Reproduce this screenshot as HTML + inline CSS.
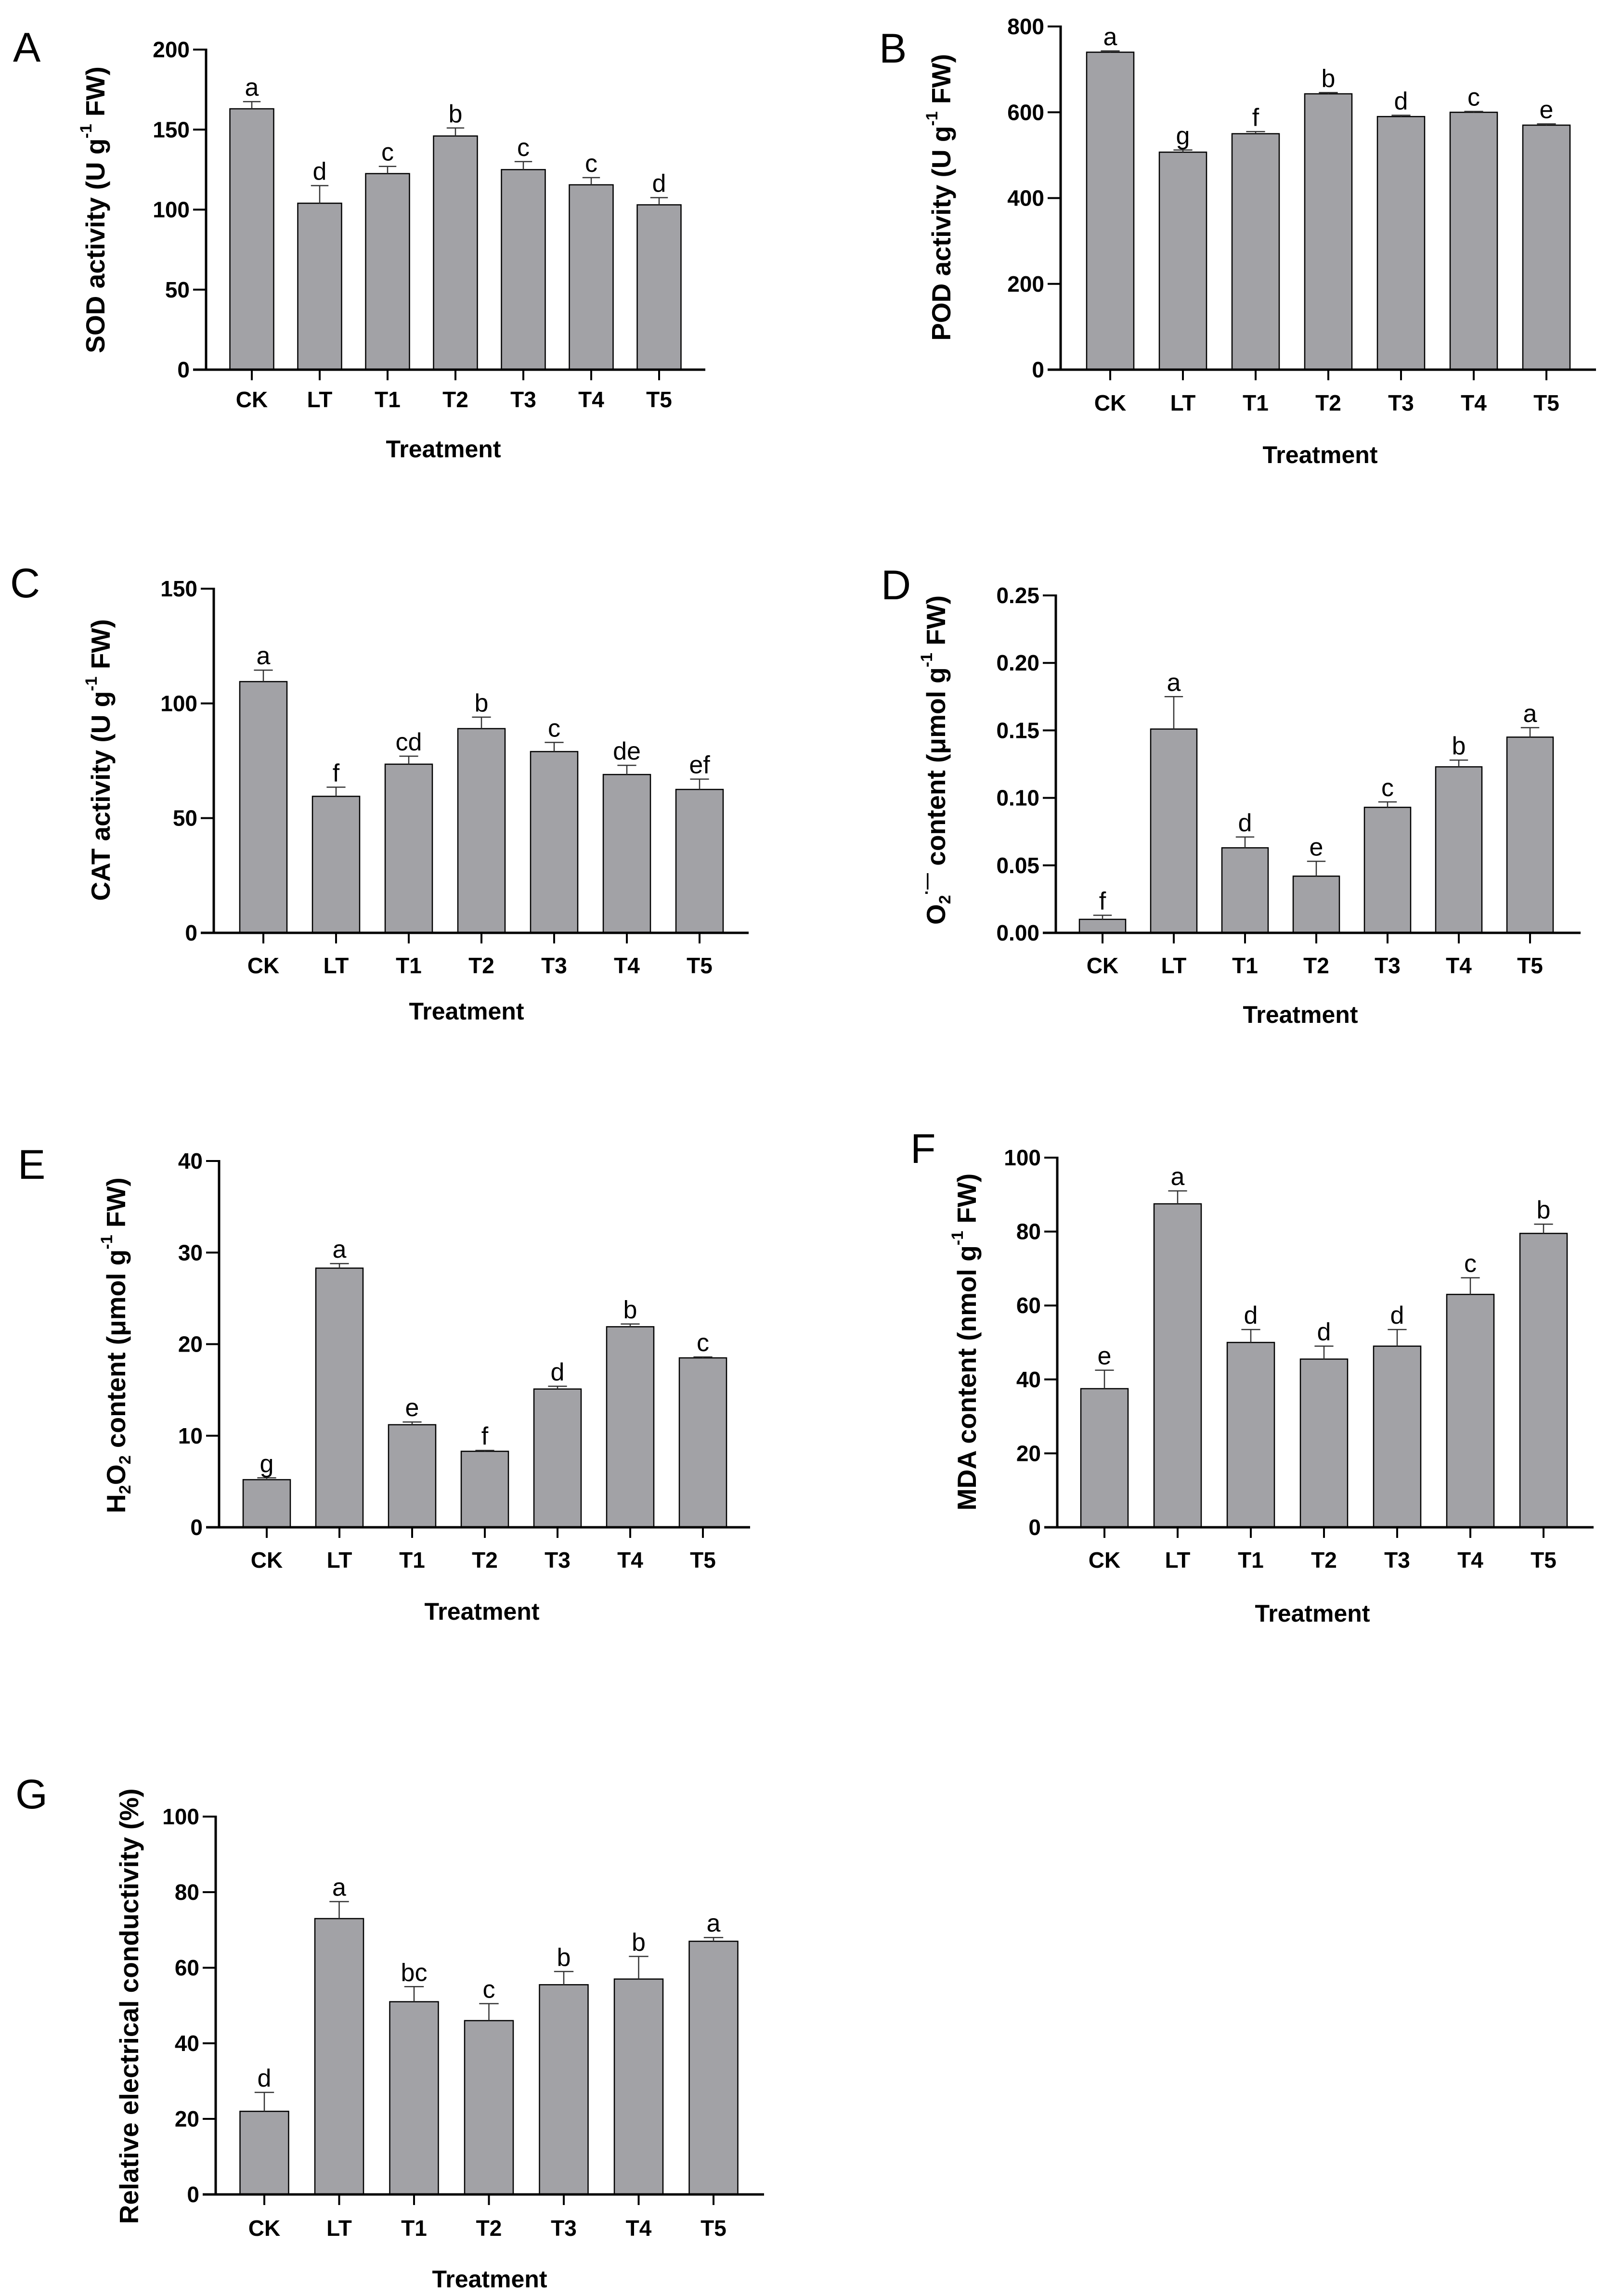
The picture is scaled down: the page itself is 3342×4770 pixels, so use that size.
<!DOCTYPE html>
<html><head><meta charset="utf-8"><style>
html,body{margin:0;padding:0;background:#fff;}
svg{display:block;font-family:"Liberation Sans",Arial,sans-serif;}
</style></head><body>
<svg id="fig" width="3342" height="4770" viewBox="0 0 3342 4770" xmlns="http://www.w3.org/2000/svg"></svg>
<script>
const categories = ["CK","LT","T1","T2","T3","T4","T5"];

const sodValues = [163,104,122.5,146,125,115.5,103];
const sodErrors = [4.5,11,4.5,5,5,4.5,4.5];
const sodLetters = ["a","d","c","b","c","c","d"];
const sodTicks = [0,50,100,150,200];

const podValues = [740,507,550,643,590,600,570];
const podErrors = [3,5,5,3,3,2,3];
const podLetters = ["a","g","f","b","d","c","e"];
const podTicks = [0,200,400,600,800];

const catValues = [109.5,59.5,73.5,89,79,69,62.5];
const catErrors = [5,4,3.5,5,4,4,4.5];
const catLetters = ["a","f","cd","b","c","de","ef"];
const catTicks = [0,50,100,150];

const o2Values = [0.010,0.151,0.063,0.042,0.093,0.123,0.145];
const o2Errors = [0.003,0.024,0.008,0.011,0.004,0.005,0.007];
const o2Letters = ["f","a","d","e","c","b","a"];
const o2Ticks = [0,0.05,0.10,0.15,0.20,0.25];

const h2o2Values = [5.2,28.3,11.2,8.3,15.1,21.9,18.5];
const h2o2Errors = [0.2,0.5,0.3,0.1,0.3,0.3,0.1];
const h2o2Letters = ["g","a","e","f","d","b","c"];
const h2o2Ticks = [0,10,20,30,40];

const mdaValues = [37.5,87.5,50,45.5,49,63,79.5];
const mdaErrors = [5,3.5,3.5,3.5,4.5,4.5,2.5];
const mdaLetters = ["e","a","d","d","d","c","b"];
const mdaTicks = [0,20,40,60,80,100];

const recValues = [22,73,51,46,55.5,57,67];
const recErrors = [5,4.5,4,4.5,3.5,6,1];
const recLetters = ["d","a","bc","c","b","b","a"];
const recTicks = [0,20,40,60,80,100];

const NS = "http://www.w3.org/2000/svg";
const svg = document.getElementById("fig");
function mk(tag, attrs, parent){
  const e = document.createElementNS(NS, tag);
  for (const k in attrs) e.setAttribute(k, attrs[k]);
  (parent||svg).appendChild(e);
  return e;
}

const panels = [
 {id:"sod", letter:"A", lx:27, ly:128, ax:428, x1:1465, yTop:103, y0:768, ymax:200, c0:523, step:141, bw:91, tickY:830, tY:933, tX:921, ylX:198, ylY:436,
  values:sodValues, errors:sodErrors, letters:sodLetters, ticks:sodTicks, dec:0,
  label:[["SOD activity (U g",""],["-1","sup"],["  FW)",""]]},
 {id:"pod", letter:"B", lx:1826, ly:130, ax:2203, x1:3315, yTop:55, y0:768, ymax:800, c0:2306, step:151, bw:98, tickY:837, tY:945, tX:2742, ylX:1955, ylY:410,
  values:podValues, errors:podErrors, letters:podLetters, ticks:podTicks, dec:0,
  label:[["POD activity (U g",""],["-1","sup"],[" FW)",""]]},
 {id:"cat", letter:"C", lx:21, ly:1241, ax:444, x1:1555, yTop:1223, y0:1938, ymax:150, c0:547, step:151, bw:98, tickY:2006, tY:2101, tX:969, ylX:209, ylY:1579,
  values:catValues, errors:catErrors, letters:catLetters, ticks:catTicks, dec:0,
  label:[["CAT activity (U g",""],["-1","sup"],[" FW)",""]]},
 {id:"o2", letter:"D", lx:1830, ly:1245, ax:2193, x1:3283, yTop:1237, y0:1938, ymax:0.25, c0:2290, step:148, bw:96, tickY:2006, tY:2108, tX:2701, ylX:1944, ylY:1579,
  values:o2Values, errors:o2Errors, letters:o2Letters, ticks:o2Ticks, dec:2,
  label:[["O",""],["2","sub"],["·\u2014","sup"],["  content (\u03bcmol g",""],["-1","sup"],["  FW)",""]]},
 {id:"h2o2", letter:"E", lx:37, ly:2449, ax:455, x1:1558, yTop:2412, y0:3173, ymax:40, c0:554, step:151, bw:98, tickY:3241, tY:3348, tX:1001, ylX:241, ylY:2795,
  values:h2o2Values, errors:h2o2Errors, letters:h2o2Letters, ticks:h2o2Ticks, dec:0,
  label:[["H",""],["2","sub"],["O",""],["2","sub"],[" content (\u03bcmol g",""],["-1","sup"],["  FW)",""]]},
 {id:"mda", letter:"F", lx:1891, ly:2416, ax:2196, x1:3310, yTop:2405, y0:3173, ymax:100, c0:2294, step:152, bw:98, tickY:3241, tY:3352, tX:2726, ylX:2008, ylY:2788,
  values:mdaValues, errors:mdaErrors, letters:mdaLetters, ticks:mdaTicks, dec:0,
  label:[["MDA content (nmol g",""],["-1","sup"],["  FW)",""]]},
 {id:"rec", letter:"G", lx:32, ly:3757, ax:448, x1:1587, yTop:3774, y0:4559, ymax:100, c0:549, step:155.5, bw:101, tickY:4629, tY:4735, tX:1017, ylX:268, ylY:4168,
  values:recValues, errors:recErrors, letters:recLetters, ticks:recTicks, dec:0,
  label:[["Relative electrical conductivity (%)",""]]}
];

panels.forEach(p=>{
  const g = mk("g",{});
  
  
  const yS = v => p.y0 - (v/p.ymax)*(p.y0-p.yTop);
  const xC = i => p.c0 + i*p.step;

  const pl = mk("text",{x:p.lx, y:p.ly, "font-size":86, fill:"#000"}, g);
  pl.textContent = p.letter;
  
  

  p.values.forEach((v,i)=>{
    const top = yS(v);
    const r = mk("rect",{x:xC(i)-p.bw/2, y:top, width:p.bw, height:p.y0-top, fill:"#a2a2a6", stroke:"#000", "stroke-width":2.5}, g);
    
    
    const et = yS(v+p.errors[i]);
    const eb = mk("path",{d:`M${xC(i)} ${top} V${et} M${xC(i)-p.bw*0.2} ${et} H${xC(i)+p.bw*0.2}`, stroke:"#333", "stroke-width":2.5, fill:"none"}, g);
    
    
    const lt = mk("text",{x:xC(i), y:et-12, "font-size":52, "text-anchor":"middle", fill:"#000"}, g);
    lt.textContent = p.letters[i];
    
    
  });

  const yAxis = mk("line",{x1:p.ax, y1:p.yTop-2, x2:p.ax, y2:p.y0+2, stroke:"#000", "stroke-width":5}, g);
  
  
  const xAxis = mk("line",{x1:p.ax-27, y1:p.y0, x2:p.x1, y2:p.y0, stroke:"#000", "stroke-width":5}, g);
  
  

  p.ticks.forEach(t=>{
    const y = yS(t);
    mk("line",{x1:p.ax-27, y1:y, x2:p.ax, y2:y, stroke:"#000", "stroke-width":4}, g);
    const tl = mk("text",{x:p.ax-34, y:y, "font-size":46, "font-weight":"bold", "text-anchor":"end", "dominant-baseline":"central", fill:"#000"}, g);
    tl.textContent = t.toFixed(p.dec);
    
    
  });
  categories.forEach((c,i)=>{
    mk("line",{x1:xC(i), y1:p.y0, x2:xC(i), y2:p.y0+22, stroke:"#000", "stroke-width":4}, g);
    const tl = mk("text",{x:xC(i), y:p.tickY, "font-size":46, "font-weight":"bold", "text-anchor":"middle", "dominant-baseline":"central", fill:"#000"}, g);
    tl.textContent = c;
    
    
  });

  const xt = mk("text",{x:p.tX, y:p.tY, "font-size":50, "font-weight":"bold", "text-anchor":"middle", "dominant-baseline":"central", fill:"#000"}, g);
  xt.textContent = "Treatment";
  
  

  const yt = mk("text",{x:0, y:0, "font-size":55, "font-weight":"bold", "text-anchor":"middle", "dominant-baseline":"central", fill:"#000", transform:`translate(${p.ylX},${p.ylY}) rotate(-90)`, "xml:space":"preserve"}, g);
  
  
  p.label.forEach(([txt,kind])=>{
    const ts = mk("tspan",{}, yt);
    if (kind==="sup"){ ts.setAttribute("baseline-shift","super"); ts.setAttribute("font-size","34"); }
    if (kind==="sub"){ ts.setAttribute("baseline-shift","sub"); ts.setAttribute("font-size","34"); }
    ts.textContent = txt;
  });
});
</script>
</body></html>
